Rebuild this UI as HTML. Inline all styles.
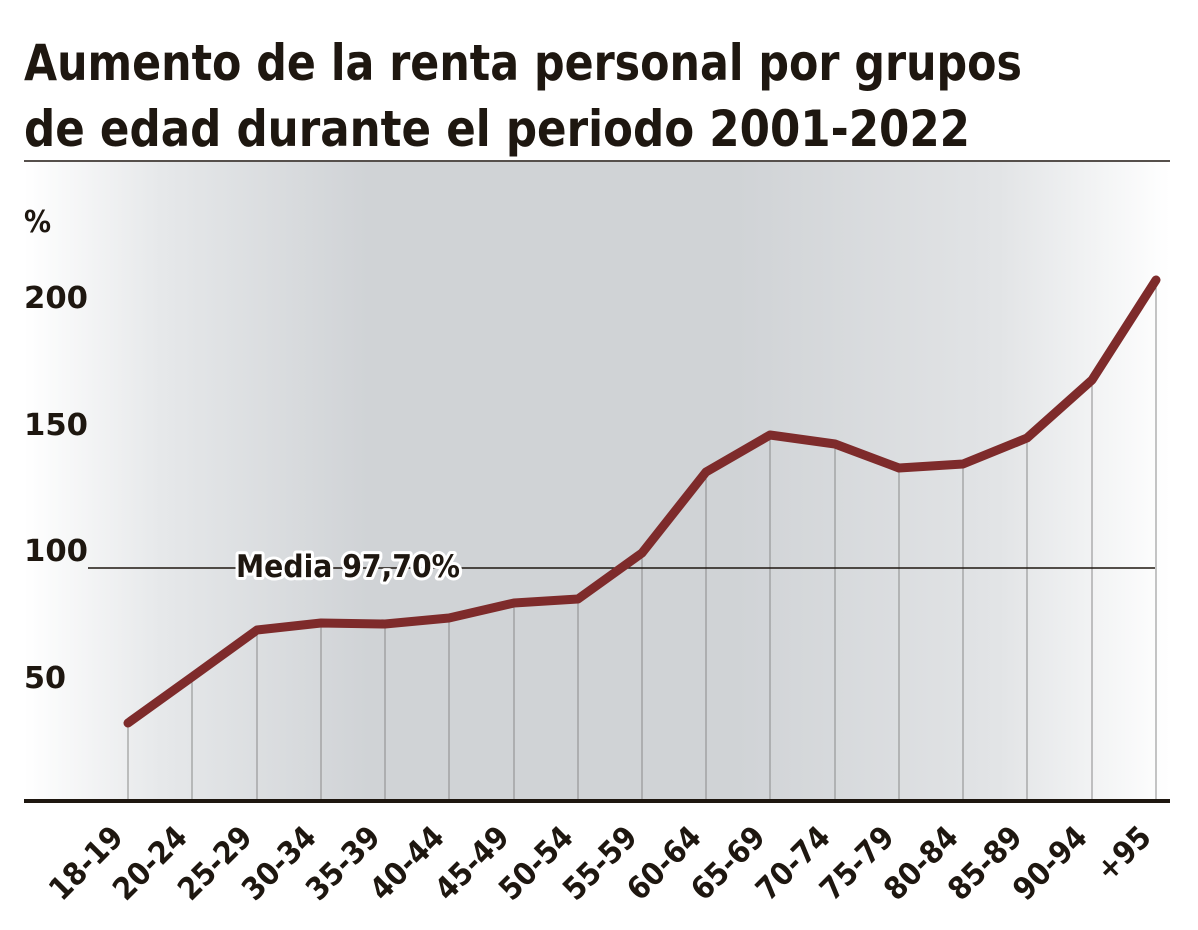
<!DOCTYPE html>
<html><head><meta charset="utf-8"><style>
body{margin:0;background:#fff;width:1198px;height:930px;overflow:hidden}
svg{display:block}
</style></head><body>
<svg width="1198" height="930" viewBox="0 0 1198 930" font-family="'DejaVu Sans Condensed','Liberation Sans',sans-serif">
<defs>
<linearGradient id="g" x1="0" x2="1" y1="0" y2="0">
<stop offset="0" stop-color="#ffffff"/>
<stop offset="0.12" stop-color="#e6e8ea"/>
<stop offset="0.3" stop-color="#d0d3d6"/>
<stop offset="0.62" stop-color="#d0d3d6"/>
<stop offset="0.85" stop-color="#e2e4e6"/>
<stop offset="1" stop-color="#ffffff"/>
</linearGradient>
</defs>
<rect x="24" y="162" width="1146" height="638" fill="url(#g)"/>
<text x="24" y="80" font-size="50" font-weight="bold" fill="#1e1710" textLength="998" lengthAdjust="spacingAndGlyphs">Aumento de la renta personal por grupos</text>
<text x="24" y="146" font-size="50" font-weight="bold" fill="#1e1710" textLength="946" lengthAdjust="spacingAndGlyphs">de edad durante el periodo 2001-2022</text>
<line x1="24" y1="161" x2="1170" y2="161" stroke="#1e1710" stroke-width="1.5"/>
<g font-size="30" font-weight="bold" fill="#1e1710">
<text x="24" y="232">%</text>
<text x="24" y="308" textLength="64" lengthAdjust="spacingAndGlyphs">200</text>
<text x="24" y="435" textLength="64" lengthAdjust="spacingAndGlyphs">150</text>
<text x="24" y="561" textLength="64" lengthAdjust="spacingAndGlyphs">100</text>
<text x="24" y="688" textLength="42" lengthAdjust="spacingAndGlyphs">50</text>
</g>
<g stroke="#8a8a8a" stroke-width="1">
<line x1="128" y1="723" x2="128" y2="800"/><line x1="192" y1="677" x2="192" y2="800"/>
<line x1="257" y1="630" x2="257" y2="800"/><line x1="321" y1="623" x2="321" y2="800"/>
<line x1="385" y1="624" x2="385" y2="800"/><line x1="449" y1="618" x2="449" y2="800"/>
<line x1="514" y1="603" x2="514" y2="800"/><line x1="578" y1="599" x2="578" y2="800"/>
<line x1="642" y1="553" x2="642" y2="800"/><line x1="706" y1="472" x2="706" y2="800"/>
<line x1="770" y1="435" x2="770" y2="800"/><line x1="835" y1="444" x2="835" y2="800"/>
<line x1="899" y1="468" x2="899" y2="800"/><line x1="963" y1="464" x2="963" y2="800"/>
<line x1="1027" y1="438" x2="1027" y2="800"/><line x1="1092" y1="380" x2="1092" y2="800"/>
<line x1="1156" y1="280" x2="1156" y2="800"/>
</g>
<line x1="88" y1="568" x2="1155" y2="568" stroke="#1e1710" stroke-width="1.5"/>
<text x="236" y="577" font-size="31" font-weight="bold" fill="#1e1710" stroke="#fff" stroke-width="6" paint-order="stroke" stroke-linejoin="round" textLength="224" lengthAdjust="spacingAndGlyphs">Media 97,70%</text>
<polyline fill="none" stroke="#7e2b2b" stroke-width="9" stroke-linejoin="round" stroke-linecap="round"
points="128,723 192,677 257,630 321,623 385,624 449,618 514,603 578,599 642,553 706,472 770,435 835,444 899,468 963,464 1027,438 1092,380 1156,280"/>
<line x1="24" y1="801" x2="1170" y2="801" stroke="#1e1710" stroke-width="4"/>
<g font-size="31" font-weight="bold" fill="#1e1710" text-anchor="end">
<text transform="translate(125,839) rotate(-45)">18-19</text>
<text transform="translate(189,839) rotate(-45)">20-24</text>
<text transform="translate(254,839) rotate(-45)">25-29</text>
<text transform="translate(318,839) rotate(-45)">30-34</text>
<text transform="translate(382,839) rotate(-45)">35-39</text>
<text transform="translate(446,839) rotate(-45)">40-44</text>
<text transform="translate(511,839) rotate(-45)">45-49</text>
<text transform="translate(575,839) rotate(-45)">50-54</text>
<text transform="translate(639,839) rotate(-45)">55-59</text>
<text transform="translate(703,839) rotate(-45)">60-64</text>
<text transform="translate(767,839) rotate(-45)">65-69</text>
<text transform="translate(832,839) rotate(-45)">70-74</text>
<text transform="translate(896,839) rotate(-45)">75-79</text>
<text transform="translate(960,839) rotate(-45)">80-84</text>
<text transform="translate(1024,839) rotate(-45)">85-89</text>
<text transform="translate(1089,839) rotate(-45)">90-94</text>
<text transform="translate(1153,839) rotate(-45)">+95</text>
</g>
</svg>
</body></html>
